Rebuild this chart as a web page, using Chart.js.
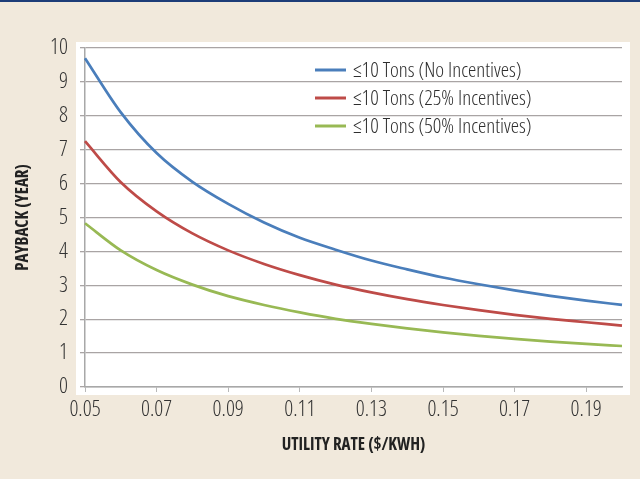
<!DOCTYPE html>
<html>
<head>
<meta charset="utf-8">
<script src="https://cdn.jsdelivr.net/npm/chart.js@4.4.1/dist/chart.umd.min.js"></script>
<style>
  html, body { margin: 0; padding: 0; background: #f1e9dc; }
  #wrap { position: relative; width: 640px; height: 479px; border-top: 2px solid #1d3d78; box-sizing: border-box; }
</style>
</head>
<body>
<div id="wrap"><canvas id="paybackChart" width="640" height="477"></canvas></div>
<script>
// utility rate categories ($/kWh)
var rates = ['0.05', '0.06', '0.07', '0.08', '0.09', '0.10', '0.11', '0.12', '0.13', '0.14', '0.15', '0.16', '0.17', '0.18', '0.19', '0.20'];
// payback in years
var noIncentives = [9.7, 8.1, 6.9, 6.05, 5.4, 4.85, 4.4, 4.05, 3.73, 3.47, 3.23, 3.03, 2.85, 2.69, 2.55, 2.42];
var incentives25 = [7.25, 6.04, 5.18, 4.53, 4.03, 3.63, 3.3, 3.02, 2.79, 2.59, 2.42, 2.27, 2.13, 2.01, 1.91, 1.81];
var incentives50 = [4.83, 4.03, 3.45, 3.02, 2.68, 2.42, 2.2, 2.01, 1.86, 1.73, 1.61, 1.51, 1.42, 1.34, 1.27, 1.21];
var seriesNames = ['\u226410 Tons (No Incentives)', '\u226410 Tons (25% Incentives)', '\u226410 Tons (50% Incentives)'];
var yTicks = [0, 1, 2, 3, 4, 5, 6, 7, 8, 9, 10];

var family = '"Open Sans", Roboto, sans-serif';
var gridGray = '#a9a4a4';

const plotBox = {
  id: 'plot_box',
  beforeDraw: (chart) => {
    const {ctx, chartArea} = chart;
    ctx.save();
    ctx.fillStyle = '#ffffff';
    ctx.fillRect(chartArea.left - 9, chartArea.top - 6, chartArea.right - chartArea.left + 17, chartArea.bottom - chartArea.top + 14);
    ctx.restore();
  }
};

// legend drawn inside the plot area, top right
const innerLegend = {
  id: 'inner_legend',
  afterDatasetsDraw: (chart) => {
    const {ctx, chartArea} = chart;
    ctx.save();
    ctx.font = '300 condensed 21px ' + family;
    ctx.textBaseline = 'middle';
    chart.data.datasets.forEach((ds, i) => {
      var y = chartArea.top + 22 + i * 28;
      var x = chartArea.left + 230;
      ctx.strokeStyle = ds.borderColor;
      ctx.lineWidth = 3;
      ctx.beginPath();
      ctx.moveTo(x, y);
      ctx.lineTo(x + 31, y);
      ctx.stroke();
      ctx.fillStyle = '#2e2e2e';
      ctx.fillText(ds.label, x + 38, y + 1);
    });
    ctx.restore();
  }
};

var canvasElem = document.getElementById('paybackChart');
var config = {
  type: 'line',
  data: {
    labels: rates,
    datasets: [
      {label: seriesNames[0], data: noIncentives, borderColor: '#4a7ebb', borderWidth: 2.7, pointRadius: 0, cubicInterpolationMode: 'monotone'},
      {label: seriesNames[1], data: incentives25, borderColor: '#be4b48', borderWidth: 2.7, pointRadius: 0, cubicInterpolationMode: 'monotone'},
      {label: seriesNames[2], data: incentives50, borderColor: '#98b954', borderWidth: 2.7, pointRadius: 0, cubicInterpolationMode: 'monotone'}
    ]
  },
  options: {
    responsive: false,
    animation: false,
    layout: {padding: {top: 46, right: 18, left: 0, bottom: 0}},
    plugins: {legend: {display: false}, tooltip: {enabled: false}},
    scales: {
      x: {
        type: 'category',
        offset: false,
        afterFit: (scale) => { scale.height = 92; },
        border: {color: '#a8a8a8', width: 1.5},
        grid: {
          drawOnChartArea: false,
          tickLength: 5,
          tickColor: (c) => (c.index % 2 === 0 ? '#b8b8b8' : 'rgba(0,0,0,0)')
        },
        ticks: {
          autoSkip: false,
          maxRotation: 0,
          padding: 5,
          color: '#333333',
          font: {family: family, size: 22, weight: '300 condensed'},
          callback: function (val, index) { return index % 2 === 0 ? this.getLabelForValue(val) : ''; }
        },
        title: {
          display: true,
          text: 'UTILITY RATE ($/KWH)',
          color: '#222222',
          font: {family: family, size: 17, weight: 'bold condensed'},
          padding: {top: 0, bottom: 24}
        }
      },
      y: {
        min: 0,
        max: 10,
        afterFit: (scale) => { scale.width = 85; },
        afterBuildTicks: (scale) => { scale.ticks = yTicks.map(v => ({value: v})); },
        border: {color: '#a8a8a8', width: 1.5},
        grid: {color: gridGray, lineWidth: 1.3, tickLength: 5, tickColor: gridGray},
        ticks: {
          padding: 12,
          color: '#333333',
          font: {family: family, size: 22, weight: '300 condensed'}
        },
        title: {
          display: true,
          text: 'PAYBACK (YEAR)',
          color: '#222222',
          font: {family: family, size: 17, weight: 'bold condensed'},
          padding: {top: 13, bottom: 0}
        }
      }
    }
  },
  plugins: [plotBox, innerLegend]
};
var paybackChart = new Chart(canvasElem, config);
</script>
</body>
</html>
